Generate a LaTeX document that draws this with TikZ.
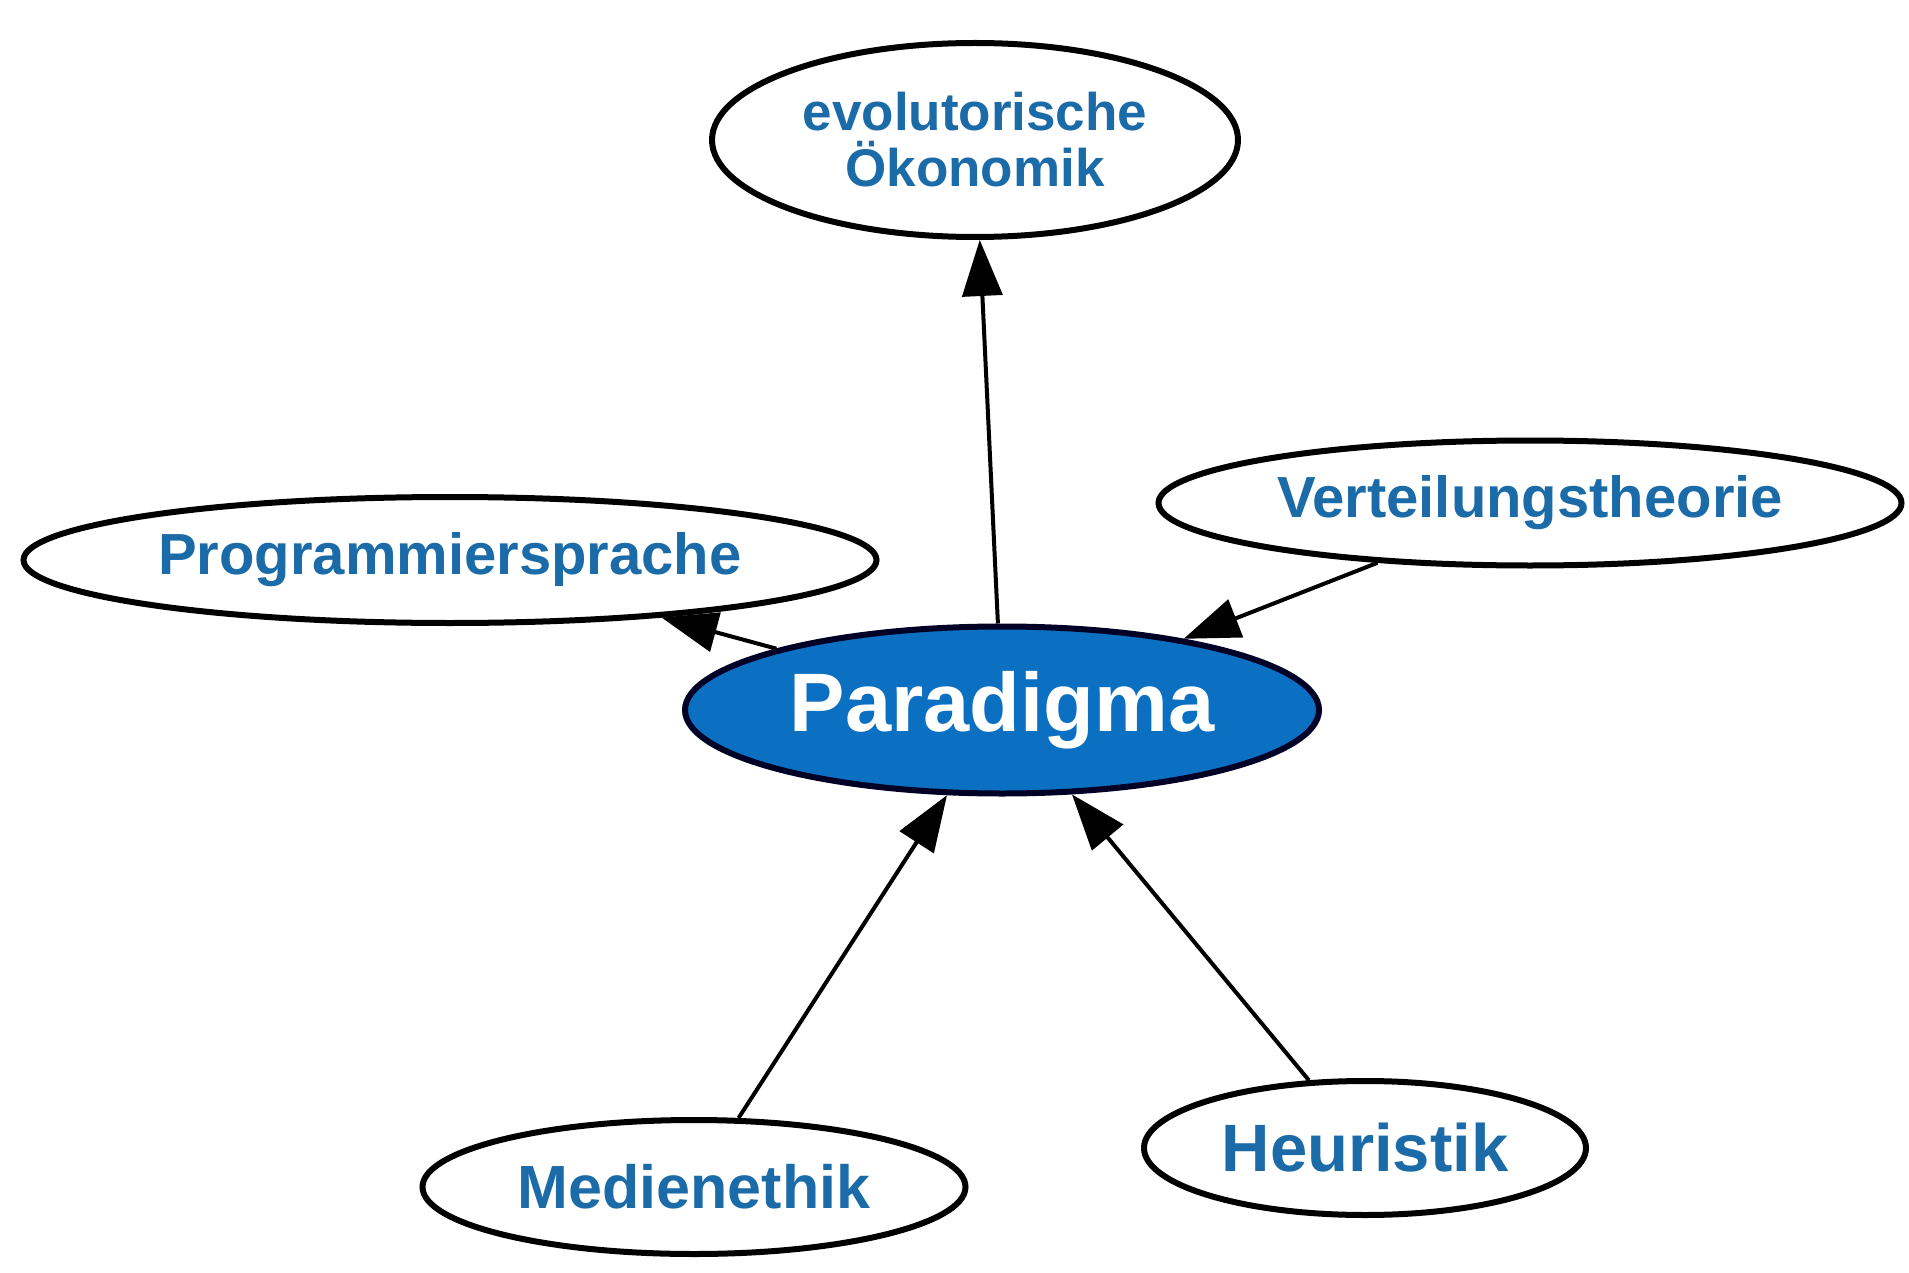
\documentclass[tikz,border=0pt]{standalone}
\usepackage{fontspec}
\setmainfont{Liberation Sans}
\usetikzlibrary{shapes.geometric,arrows.meta}
\definecolor{txtblue}{HTML}{1B6BA8}
\definecolor{fillblue}{HTML}{0B70C2}
\tikzset{
  concept/.style={ellipse, draw=black, line width=6pt, fill=white, inner sep=0pt,
    text=txtblue, font=\bfseries, align=center},
  center/.style={ellipse, draw=black!85!blue, line width=6pt, fill=fillblue, inner sep=0pt,
    text=white, font=\bfseries\fontsize{83}{90}\selectfont},
  link/.style={line width=4pt, -{Triangle[length=56pt,width=40pt]}}
}
\begin{document}
\begin{tikzpicture}[x=1pt,y=-1pt]
\useasboundingbox (0,0) rectangle (1909,1273);
\node[center, minimum width=634pt, minimum height=167pt] (par) at (1002,710) {Paradigma};
\node[concept, minimum width=526pt, minimum height=194pt,
  font=\bfseries\fontsize{53}{56}\selectfont] (evo) at (975,140) {evolutorische\\Ökonomik};
\node[concept, minimum width=743pt, minimum height=125pt,
  font=\bfseries\fontsize{58}{64}\selectfont] (ver) at (1530,503) {Verteilungstheorie};
\node[concept, minimum width=853pt, minimum height=126pt,
  font=\bfseries\fontsize{58}{64}\selectfont] (pro) at (450,560) {Programmiersprache};
\node[concept, minimum width=543pt, minimum height=134pt,
  font=\bfseries\fontsize{61}{66}\selectfont] (med) at (694,1187) {Medienethik};
\node[concept, minimum width=442pt, minimum height=134pt,
  font=\bfseries\fontsize{67}{72}\selectfont] (heu) at (1365,1148) {Heuristik};
\draw[link] (par) -- (evo);
\draw[link] (par) -- (pro);
\draw[link] (ver) -- (par);
\draw[link] (med) -- (par);
\draw[link] (heu) -- (par);
\end{tikzpicture}
\end{document}
